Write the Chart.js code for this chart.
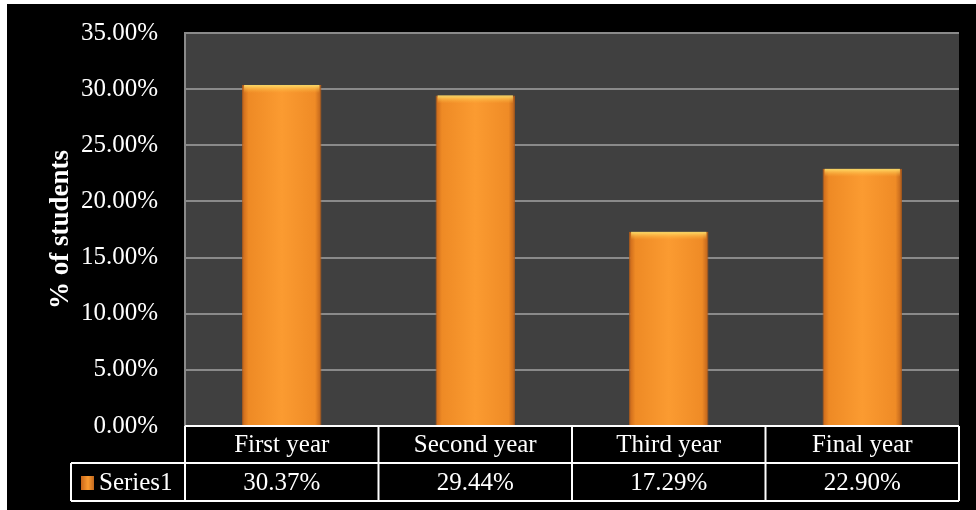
<!DOCTYPE html>
<html>
<head>
<meta charset="utf-8">
<script src="https://cdn.jsdelivr.net/npm/chart.js@4.4.1/dist/chart.umd.min.js"></script>
<style>
  html, body { margin: 0; padding: 0; background: #fff; }
  #wrap { position: absolute; left: 7px; top: 4px; width: 969px; height: 506px; background: #000; }
</style>
</head>
<body>
<div id="wrap"><canvas id="students"></canvas></div>
<script>
// data
var categories = ["First year", "Second year", "Third year", "Final year"];
var series1 = [30.37, 29.44, 17.29, 22.90];
var seriesName = "Series1";
var yMin = 0, yMax = 35, yStep = 5;

var serif = "'Liberation Serif', 'Times New Roman', serif";

// horizontal gradient for each bar, from the x scale
function barFill(c) {
    var chart = c.chart;
    if (!chart.chartArea || !chart.scales.x) return '#f39325';
    var xs = chart.scales.x;
    var cx = xs.getPixelForValue(c.dataIndex);
    var w = xs.width / categories.length * 0.41;
    var g = chart.ctx.createLinearGradient(cx - w / 2, 0, cx + w / 2, 0);
    g.addColorStop(0, '#c8661a');
    g.addColorStop(0.08, '#ee8a25');
    g.addColorStop(0.5, '#fb9b31');
    g.addColorStop(0.92, '#ef8b26');
    g.addColorStop(1, '#b9601b');
    return g;
}

// dark plot background
var plotBg = {
    id: 'plotBg',
    beforeDraw: function (chart) {
        var a = chart.chartArea, ctx = chart.ctx;
        ctx.save();
        ctx.fillStyle = '#404040';
        ctx.fillRect(a.left, a.top, a.right - a.left, a.bottom - a.top);
        ctx.restore();
    }
};

// light strip on top of each bar
var barShine = {
    id: 'barShine',
    afterDatasetsDraw: function (chart) {
        var ctx = chart.ctx;
        chart.getDatasetMeta(0).data.forEach(function (el) {
            var g = ctx.createLinearGradient(0, el.y, 0, el.y + 8);
            g.addColorStop(0, 'rgba(255,226,110,0.95)');
            g.addColorStop(1, 'rgba(255,180,60,0)');
            ctx.save();
            ctx.fillStyle = g;
            ctx.fillRect(el.x - el.width / 2 + 2, el.y, el.width - 4, 8);
            ctx.restore();
        });
    }
};

// data table under the plot
var dataTable = {
    id: 'dataTable',
    afterDraw: function (chart) {
        var ctx = chart.ctx, xs = chart.scales.x;
        var n = categories.length;
        var cw = xs.width / n;
        var top = chart.chartArea.bottom;
        var mid = top + 37, bot = top + 75;
        var legLeft = 64;
        ctx.save();
        ctx.strokeStyle = '#fff';
        ctx.lineWidth = 2;
        ctx.beginPath();
        ctx.moveTo(xs.left, top); ctx.lineTo(xs.right, top);
        ctx.moveTo(legLeft, mid); ctx.lineTo(xs.right, mid);
        ctx.moveTo(legLeft, bot); ctx.lineTo(xs.right, bot);
        ctx.moveTo(legLeft, mid); ctx.lineTo(legLeft, bot);
        for (var i = 0; i <= n; i++) {
            var x = xs.left + i * cw;
            ctx.moveTo(x, top); ctx.lineTo(x, bot);
        }
        ctx.stroke();

        ctx.fillStyle = '#fff';
        ctx.font = '25px ' + serif;
        ctx.textAlign = 'center';
        ctx.textBaseline = 'middle';
        for (var j = 0; j < n; j++) {
            var cx = xs.getPixelForValue(j);
            ctx.fillText(categories[j], cx, top + 19);
            ctx.fillText(series1[j].toFixed(2) + '%', cx, mid + 20);
        }
        // legend key
        var g = ctx.createLinearGradient(74, 0, 88, 0);
        g.addColorStop(0, '#c8661a');
        g.addColorStop(0.5, '#fb9b31');
        g.addColorStop(1, '#b9601b');
        ctx.fillStyle = g;
        ctx.fillRect(74, mid + 13, 13, 14);
        ctx.fillStyle = '#fff';
        ctx.textAlign = 'left';
        ctx.fillText(seriesName, 92, mid + 20);
        ctx.restore();
    }
};

var ctx = document.getElementById('students').getContext('2d');
var chart = new Chart(ctx, {
    type: 'bar',
    data: {
        labels: categories,
        datasets: [{
            label: seriesName,
            data: series1,
            backgroundColor: barFill,
            borderColor: '#b45d19',
            borderWidth: 1,
            barPercentage: 0.41,
            categoryPercentage: 1
        }]
    },
    options: {
        responsive: true,
        maintainAspectRatio: false,
        animation: false,
        layout: { padding: { left: 0, top: 29, right: 17, bottom: 9 } },
        plugins: {
            legend: { display: false },
            tooltip: { enabled: false }
        },
        scales: {
            x: {
                grid: { display: false },
                border: { display: false },
                ticks: { display: false },
                afterFit: function (s) { s.height = 75; }
            },
            y: {
                min: yMin,
                max: yMax,
                afterFit: function (s) { s.width = 178; },
                // tick marks kept invisible, only to push the labels off the axis
                grid: { color: '#8a8a8a', lineWidth: 2, drawTicks: true, tickLength: 27, tickColor: 'rgba(0,0,0,0)' },
                border: { color: '#8a8a8a', width: 2 },
                ticks: {
                    stepSize: yStep,
                    padding: 0,
                    color: '#fff',
                    font: { family: serif, size: 25 },
                    callback: function (v) { return v.toFixed(2) + '%'; }
                },
                title: {
                    display: true,
                    text: '% of students',
                    color: '#fff',
                    font: { family: serif, size: 27, weight: 'bold' },
                    padding: { top: 38, bottom: 0 }
                }
            }
        }
    },
    plugins: [plotBg, barShine, dataTable]
});
</script>
</body>
</html>
